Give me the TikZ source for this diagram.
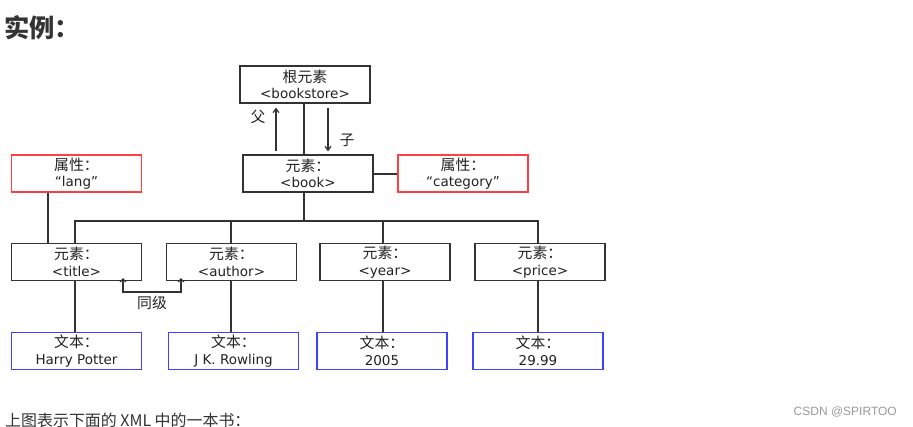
\documentclass[tikz,border=0pt]{standalone}
\usepackage{fontspec}
\setmainfont{DejaVu Sans}
\newfontfamily\cjk[Scale=1.1]{Noto Sans CJK SC}
\newfontfamily\wmfont{Liberation Sans}
\definecolor{ink}{HTML}{222222}
\definecolor{edge}{HTML}{333333}
\definecolor{attrred}{HTML}{FF4040}
\definecolor{textblue}{HTML}{4040FF}
\definecolor{wmgray}{HTML}{999999}
\newcommand{\zh}[1]{{\cjk #1}}
\usetikzlibrary{arrows.meta,calc}

\begin{document}
\begin{tikzpicture}[x=1pt,y=-1pt,
    elem/.style={draw=edge,line width=1.2pt,fill=white,
      minimum width=130pt,minimum height=37pt,inner sep=0pt,
      align=center,text=ink,font=\fontsize{13.5}{16.5}\selectfont},
    attr/.style={elem,draw=attrred},
    txt/.style={elem,draw=textblue},
    lbl/.style={text=ink,inner sep=0pt,font=\fontsize{13.5}{16}\selectfont\cjk},
    ln/.style={draw=edge,line width=1.25pt},
    ar/.style={ln,-{Straight Barb[length=4pt,width=6pt]}},
    sib/.style={ln,{Straight Barb[length=3pt,width=6pt]}-{Straight Barb[length=3pt,width=6pt]}},
  ]
    \useasboundingbox (0,0) rectangle (913,427);

    % heading and caption
    \node[anchor=west,inner sep=0pt,text=edge,font=\fontsize{23}{28}\selectfont\cjk\bfseries]
      (head) at (4,28) {实例：};
    \node[anchor=west,inner sep=0pt,text=edge,font=\fontsize{14.5}{18}\selectfont\cjk]
      (cap) at (5,420) {上图表示下面的 XML 中的一本书：};
    \node[anchor=east,inner sep=0pt,text=wmgray,font=\fontsize{12}{14}\selectfont\wmfont]
      (wm) at (897,412) {CSDN @SPIRTOO};

    % tree
    \node[elem] (root) at (305,84.5) {\zh{根元素}\\<bookstore>};
    \node[elem] (book) at (308,173.5) {\zh{元素：}\\<book>};
    \node[attr] (lang) at (76.5,173.5) {\zh{属性：}\\“lang”};
    \node[attr] (cat) at (463,173.5) {\zh{属性：}\\“category”};

    \node[elem] (title) at (76.5,262) {\zh{元素：}\\<title>};
    \node[elem] (author) at (231.5,262) {\zh{元素：}\\<author>};
    \node[elem] (year) at (385,262) {\zh{元素：}\\<year>};
    \node[elem] (price) at (540,262) {\zh{元素：}\\<price>};

    \node[txt] (harry) at (76.5,351) {\zh{文本：}\\Harry Potter};
    \node[txt] (rowling) at (233.5,351) {\zh{文本：}\\J K. Rowling};
    \node[txt] (y2005) at (382,351) {\zh{文本：}\\2005};
    \node[txt] (p2999) at (538,351) {\zh{文本：}\\29.99};

    \node[lbl] (fu) at (258,117) {父};
    \node[lbl] (zi) at (347,140) {子};
    \node[lbl] (tj) at (152,303) {同级};

    \coordinate (bus) at (304,221);
    \coordinate (sibL) at (123,292);
    \coordinate (sibR) at (181,292);

    % connectors
    \draw[ln] ([xshift=-4pt]book.north) -- ([xshift=-4pt]book.north |- root.south);
    \draw[ar,shorten <=3pt,shorten >=4pt] ([xshift=-32pt]book.north) -- ([xshift=-32pt]book.north |- root.south);
    \draw[ar,shorten <=4pt,shorten >=3pt] ([xshift=20pt]book.north |- root.south) -- ([xshift=20pt]book.north);
    \draw[ln] ([yshift=-0.5pt]book.east) -- ([yshift=-0.5pt]cat.west);

    \draw[ln] (book.south -| bus) -- (bus);
    \draw[ln] ([xshift=-1.5pt]title.north) |- (bus) -| ([xshift=-2pt]price.north);
    \draw[ln] ([xshift=-0.5pt]author.north) -- ([xshift=-0.5pt]author.north |- bus);
    \draw[ln] ([xshift=-2pt]year.north) -- ([xshift=-2pt]year.north |- bus);
    \draw[ln] ([xshift=-28.5pt]lang.south) -- ([xshift=-28.5pt]title.north);

    \draw[ln] ([xshift=-1.5pt]title.south) -- ([xshift=-1.5pt]title.south |- harry.north);
    \draw[ln] ([xshift=-0.5pt]author.south) -- ([xshift=-0.5pt]author.south |- rowling.north);
    \draw[ln] ([xshift=-2pt]year.south) -- ([xshift=-2pt]year.south |- y2005.north);
    \draw[ln] ([xshift=-2pt]price.south) -- ([xshift=-2pt]price.south |- p2999.north);

    \draw[sib] ([yshift=3pt]title.south -| sibL) -- (sibL) -- (sibR) -- ([yshift=3pt]author.south -| sibR);
\end{tikzpicture}
\end{document}
